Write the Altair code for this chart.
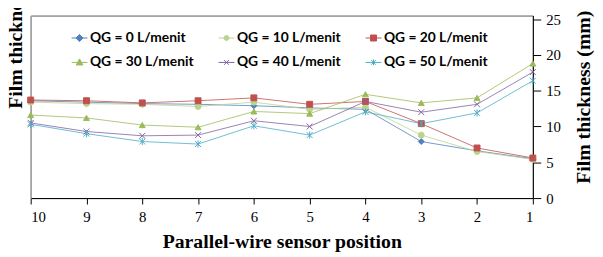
import altair as alt
import pandas as pd

positions = [10, 9, 8, 7, 6, 5, 4, 3, 2, 1]
series_names = ["QG = 0 L/menit", "QG = 10 L/menit", "QG = 20 L/menit",
                "QG = 30 L/menit", "QG = 40 L/menit", "QG = 50 L/menit"]
marker_ids = ["m0", "m10", "m20", "m30", "m40", "m50"]
qg0 = [13.6, 13.4, 13.2, 13.1, 12.9, 12.6, 12.4, 7.9, 6.6, 5.5]
qg10 = [13.4, 13.2, 13.1, 12.8, 13.4, 12.4, 12.7, 8.8, 6.5, 5.4]
qg20 = [13.7, 13.6, 13.3, 13.6, 14.0, 13.1, 13.5, 10.4, 7.0, 5.6]
qg30 = [11.6, 11.2, 10.2, 9.9, 12.1, 11.8, 14.5, 13.3, 14.0, 18.8]
qg40 = [10.5, 9.3, 8.7, 8.8, 10.8, 10.0, 13.5, 12.0, 13.1, 17.6]
qg50 = [10.3, 9.0, 7.9, 7.55, 10.1, 8.8, 12.05, 10.4, 11.9, 16.4]
y_ticks = [0, 5, 10, 15, 20, 25]

colors = ["#4F81BD", "#BCD38E", "#C0504D", "#9BBB59", "#8064A2", "#4BACC6"]

X_PATH = "M-1,-1L1,1M-1,1L1,-1"
STAR_PATH = "M-1,-1L1,1M-1,1L1,-1M0,-1.2L0,1.2"
point_shapes = ["diamond", "circle", "square", "triangle-up", X_PATH, STAR_PATH]

LINE = "M-1,0H1"
legend_paths = [
    LINE + "M0,-0.45L0.45,0L0,0.45L-0.45,0Z",
    LINE + "M0.32,0A0.32,0.32 0 1,1 -0.32,0A0.32,0.32 0 1,1 0.32,0Z",
    LINE + "M-0.38,-0.38H0.38V0.38H-0.38Z",
    LINE + "M0,-0.45L0.42,0.32L-0.42,0.32Z",
    LINE + "M-0.3,-0.3L0.3,0.3M-0.3,0.3L0.3,-0.3",
    LINE + "M-0.3,-0.3L0.3,0.3M-0.3,0.3L0.3,-0.3M0,-0.38L0,0.38",
]

shape_expr = "'" + legend_paths[-1] + "'"
for name, path in reversed(list(zip(series_names[:-1], legend_paths[:-1]))):
    shape_expr = "datum.value === '" + name + "' ? '" + path + "' : (" + shape_expr + ")"

all_values = [qg0, qg10, qg20, qg30, qg40, qg50]
rows = []
for name, mid, vals in zip(series_names, marker_ids, all_values):
    for p, v in zip(positions, vals):
        rows.append({"series": name, "marker": mid, "position": p, "value": v})
df = pd.DataFrame(rows)

serif = "Liberation Serif"

x_enc = alt.X(
    "position:Q",
    scale=alt.Scale(domain=[10, 1], nice=False, zero=False),
    axis=alt.Axis(
        values=positions, format="d", grid=False,
        tickSize=6, tickColor="black", domainColor="black",
        labelFont=serif, labelFontSize=15, labelColor="black", labelPadding=6,
        title="Parallel-wire sensor position", titleFont=serif, titleFontSize=20,
        titleFontWeight="bold", titleColor="black", titleY=50, titleBaseline="alphabetic",
    ),
)

yscale = alt.Scale(domain=[0, 25.5], nice=False, zero=True)

right_axis = alt.Axis(
    orient="right", values=y_ticks, grid=False, tickSize=8, tickColor="black",
    domainColor="black", labelFont=serif, labelFontSize=15, labelColor="black",
    labelPadding=5, title="Film thickness (mm)", titleFont=serif, titleFontSize=20,
    titleFontWeight="bold", titleColor="black", titleAngle=270, titleAlign="left",
    titleBaseline="alphabetic", titleX=57, titleY=170,
)
left_axis = alt.Axis(
    orient="left", labels=False, ticks=False, grid=False, domainColor="#a6a6a6",
    domainWidth=1.5, title="Film thickness", titleFont=serif, titleFontSize=20,
    titleFontWeight="bold", titleColor="black", titleAngle=270, titleAlign="left",
    titleBaseline="alphabetic", titleX=-9, titleY=94,
)

color_scale = alt.Scale(domain=series_names, range=colors)
marker_color_scale = alt.Scale(domain=marker_ids, range=colors)

lines = alt.Chart(df).mark_line(strokeWidth=1, opacity=0.8).encode(
    x=x_enc,
    y=alt.Y("value:Q", scale=yscale, axis=right_axis),
    color=alt.Color(
        "series:N", scale=color_scale,
        legend=alt.Legend(
            title=None, orient="none", legendX=41, legendY=14, columns=3,
            direction="horizontal",
            symbolSize=256, symbolStrokeWidth=1, labelFont="Lato",
            labelFontWeight="bold", labelFontSize=14, labelColor="black",
            labelOffset=2, columnPadding=22, rowPadding=9, padding=0,
            symbolType={"expr": shape_expr},
            symbolFillColor={"expr": "scale('color', datum.value)"},
            symbolOpacity=1,
        ),
    ),
    order="position:Q",
)

points = alt.Chart(df).mark_point(filled=True, opacity=1, strokeWidth=1, size=36).encode(
    x=x_enc,
    y=alt.Y("value:Q", scale=yscale, axis=left_axis),
    fill=alt.Fill("marker:N", scale=marker_color_scale, legend=None),
    stroke=alt.Stroke("marker:N", scale=marker_color_scale, legend=None),
    shape=alt.Shape("marker:N", scale=alt.Scale(domain=marker_ids, range=point_shapes), legend=None),
)

chart = alt.layer(lines, points).resolve_axis(y="independent").properties(
    width=509, height=185, autosize="none",
    padding={"left": 23, "top": 6, "right": 63, "bottom": 54},
).configure_view(stroke="#595959", strokeWidth=1)

chart.save("out.html", embed_options={"renderer": "svg", "actions": False})
